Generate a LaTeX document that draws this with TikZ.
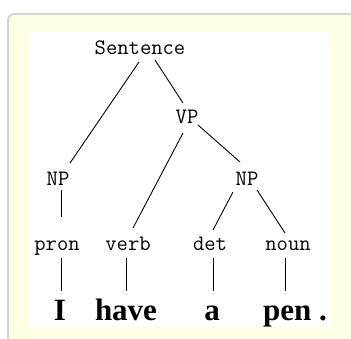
\documentclass[tikz,border=0pt]{standalone}
\usepackage{fontspec}
\setmainfont{Liberation Serif}
\definecolor{panelyellow}{HTML}{FFFFE6}
\definecolor{panelborder}{HTML}{D4D4D4}
\begin{document}
\begin{tikzpicture}[x=1pt,y=-1pt,
  lab/.style={anchor=base,inner sep=0pt,font=\fontsize{22}{22}\selectfont\ttfamily},
  word/.style={anchor=base,inner sep=0pt,font=\fontsize{31}{31}\selectfont\bfseries},
  edge/.style={draw=black,line width=0.9pt}]
\useasboundingbox (0,0) rectangle (351,338);
\clip (0,0) rectangle (351,338);
\fill[white] (0,0) rectangle (351,338);
\filldraw[fill=panelyellow,draw=panelborder,line width=2pt,rounded corners=6pt] (8,14) rectangle (370,360);
\fill[white] (30,32) rectangle (330,327);
% nodes
\node[lab] (S) at (140,54) {Sentence};
\node[lab] (VP) at (187,123) {VP};
\node[lab] (NPl) at (58,185) {NP};
\node[lab] (NPr) at (247,185) {NP};
\node[lab] (pron) at (57,250) {pron};
\node[lab] (verb) at (128,250) {verb};
\node[lab] (det) at (210,250) {det};
\node[lab] (noun) at (288,250) {noun};
\node[word] (I) at (60,320) {I};
\node[word] (have) at (126,320) {have};
\node[word] (a) at (212,320) {a};
\node[word,anchor=base west] (pen) at (263,320) {pen .};
% connectors
\draw[edge] ([shift={(-1,8)}]S.base) -- ([shift={(12,-22)}]NPl.base);
\draw[edge] ([shift={(15,6)}]S.base) -- ([shift={(-4,-20)}]VP.base);
\draw[edge] ([shift={(-4,10)}]VP.base) -- ([shift={(5,-22)}]verb.base);
\draw[edge] ([shift={(11,2)}]VP.base) -- ([shift={(-7,-23)}]NPr.base);
\draw[edge] ([shift={(-14,7)}]NPr.base) -- ([shift={(3,-20)}]det.base);
\draw[edge] ([shift={(10,5)}]NPr.base) -- ([shift={(-3,-17)}]noun.base);
\draw[edge] ([shift={(3,5)}]NPl.base) -- ([shift={(4,-33)}]pron.base);
\draw[edge] ([shift={(4,8)}]pron.base) -- ([shift={(1,-29)}]I.base);
\draw[edge] ([shift={(-2,8)}]verb.base) -- ([shift={(0,-29)}]have.base);
\draw[edge] ([shift={(3,8)}]det.base) -- ([shift={(1,-29)}]a.base);
\draw[edge] ([shift={(-3,8)}]noun.base) -- ([shift={(22,-29)}]pen.base west);
\end{tikzpicture}
\end{document}
